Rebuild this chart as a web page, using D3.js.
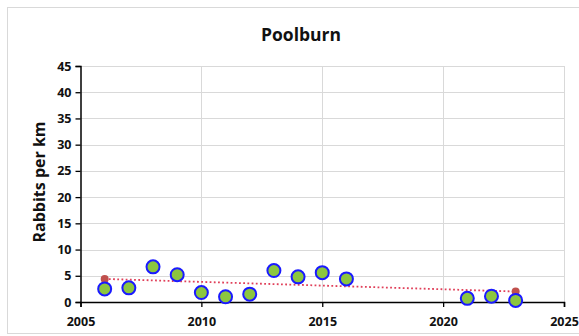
<!DOCTYPE html>
<html>
<head>
<meta charset="utf-8">
<script src="https://cdn.jsdelivr.net/npm/d3@7"></script>
<style>
  html, body { margin: 0; padding: 0; background: #fff; }
  svg { display: block; }
</style>
</head>
<body>
<svg id="chart" width="579" height="336"></svg>
<script>
// Rabbit counts at Poolburn
const years = [2006, 2007, 2008, 2009, 2010, 2011, 2012, 2013, 2014, 2015, 2016, 2021, 2022, 2023];
const rabbitsPerKm = [2.5, 2.7, 6.7, 5.2, 1.8, 1.0, 1.5, 6.0, 4.8, 5.6, 4.4, 0.7, 1.1, 0.3];
// Trend line end points
const trendYears = [2006, 2023];
const trendValues = [4.4, 2.0];
const xTicks = [2005, 2010, 2015, 2020, 2025];
const yTicks = [0, 5, 10, 15, 20, 25, 30, 35, 40, 45];

const svg = d3.select("#chart");
const font = "'Open Sans', 'Liberation Sans', sans-serif";

// Chart frame
svg.append("rect")
  .attr("x", 7.5).attr("y", 7.5).attr("width", 578).attr("height", 326)
  .attr("fill", "#fff").attr("stroke", "#d9d9d9");

const x = d3.scaleLinear().domain([2005, 2025]).range([80.5, 564]);
const y = d3.scaleLinear().domain([0, 45]).range([302, 66]);

// Gridlines
svg.append("g").selectAll("line.h").data(yTicks.slice(1)).join("line")
  .attr("x1", x(2005)).attr("x2", x(2025))
  .attr("y1", d => Math.round(y(d)) + 0.5).attr("y2", d => Math.round(y(d)) + 0.5)
  .attr("stroke", "#d9d9d9").attr("stroke-width", 1);
svg.append("g").selectAll("line.v").data(xTicks.slice(1)).join("line")
  .attr("x1", d => Math.round(x(d)) + 0.5).attr("x2", d => Math.round(x(d)) + 0.5)
  .attr("y1", y(45)).attr("y2", y(0))
  .attr("stroke", "#d9d9d9").attr("stroke-width", 1);

// Axes
const xAxis = svg.append("g").attr("transform", `translate(0,${y(0)})`)
  .call(d3.axisBottom(x).tickValues(xTicks).tickFormat(d3.format("d")).tickSizeOuter(0).tickSize(5));
const yAxis = svg.append("g").attr("transform", `translate(${x(2005)},0)`)
  .call(d3.axisLeft(y).tickValues(yTicks).tickSizeOuter(0).tickSize(5));

[xAxis, yAxis].forEach(g => {
  g.select(".domain").attr("stroke", "#000").attr("stroke-width", 1.5);
  g.selectAll(".tick line").attr("stroke", "#000").attr("stroke-width", 1.3);
  g.selectAll(".tick text")
    .attr("font-family", font).attr("font-size", 12.5).attr("font-weight", "bold").attr("fill", "#111");
});
xAxis.selectAll(".tick text").attr("dy", "1.25em");
yAxis.selectAll(".tick text").attr("dx", "-1px");

// Trend line
svg.append("line")
  .attr("x1", x(trendYears[0])).attr("y1", y(trendValues[0]))
  .attr("x2", x(trendYears[1])).attr("y2", y(trendValues[1]))
  .attr("stroke", "#e0405a").attr("stroke-width", 1.8).attr("stroke-dasharray", "1.8,2.4");
svg.append("g").selectAll("circle").data(trendYears).join("circle")
  .attr("cx", d => x(d)).attr("cy", (d, i) => y(trendValues[i]))
  .attr("r", 4).attr("fill", "#c0504d");

// Data points
svg.append("g").selectAll("circle").data(years).join("circle")
  .attr("cx", d => x(d)).attr("cy", (d, i) => y(rabbitsPerKm[i]))
  .attr("r", 6.5).attr("fill", "#8cc63f").attr("stroke", "#1a1aff").attr("stroke-width", 2);

// Title
svg.append("text")
  .attr("x", 301).attr("y", 41).attr("text-anchor", "middle")
  .attr("font-family", font).attr("font-size", 17.5).attr("font-weight", "bold").attr("fill", "#111")
  .text("Poolburn");

// Y axis title
svg.append("text")
  .attr("transform", `translate(45,${(y(0) + y(45)) / 2 - 2}) rotate(-90)`)
  .attr("text-anchor", "middle")
  .attr("font-family", font).attr("font-size", 16).attr("font-weight", "bold").attr("fill", "#111")
  .text("Rabbits per km");
</script>
</body>
</html>
